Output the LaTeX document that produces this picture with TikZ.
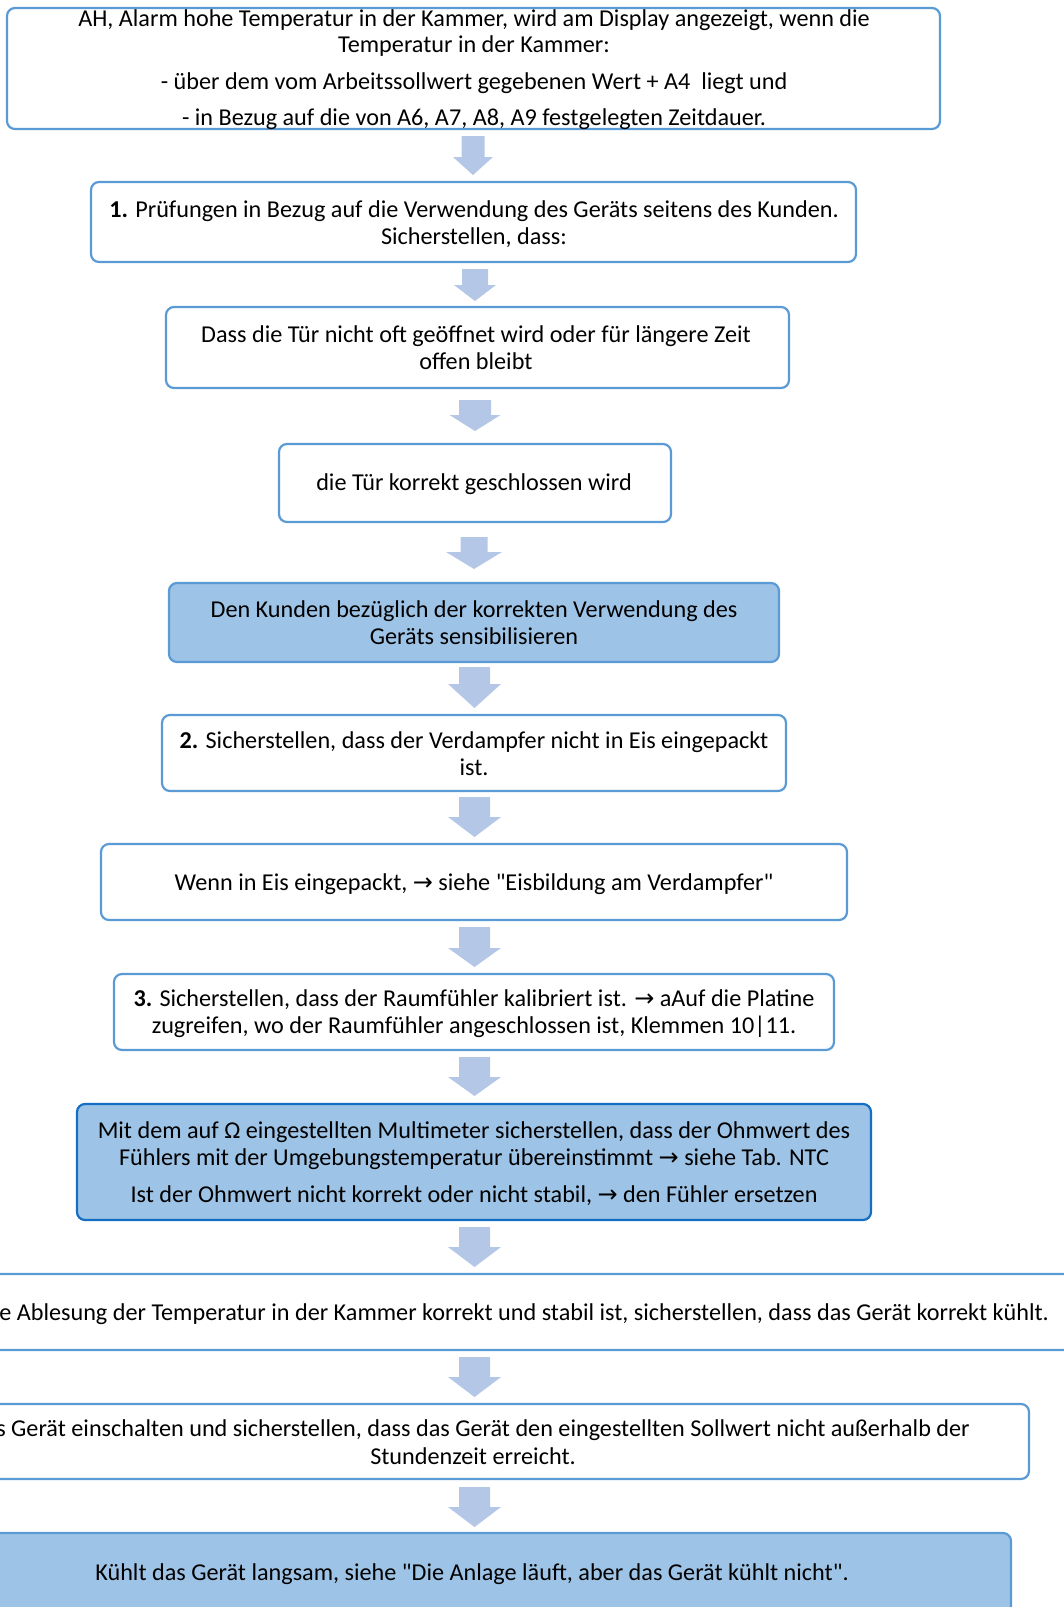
\documentclass[tikz,border=0pt]{standalone}
\usepackage{fontspec}
\setmainfont{Carlito}[Ligatures=TeXOff]
\newfontfamily\arrowfont{DejaVu Sans}
\usetikzlibrary{calc}
\definecolor{boxline}{HTML}{5B9BD5}
\definecolor{boxfill}{HTML}{9DC3E6}
\definecolor{arrfill}{HTML}{B4C7E7}
\definecolor{darkline}{RGB}{20,110,195}
\newcommand{\ar}{{\arrowfont\fontsize{24}{27}\selectfont →}}
% name, cx, ytop, yhead, ytip, shaft half width, head half width
\newcommand{\blockarrow}[7]{%
  \fill[arrfill] (#2-#6,#3) -- (#2+#6,#3) -- (#2+#6,#4) -- (#2+#7,#4) -- (#2,#5) -- (#2-#7,#4) -- (#2-#6,#4) -- cycle;
  \coordinate (#1) at (#2,#5);}
\tikzset{
  box/.style={draw=boxline, line width=2.2pt, rounded corners=8pt, fill=white, inner sep=0pt},
  fbox/.style={box, fill=boxfill},
  txt/.style={align=center, inner sep=0pt, font=\fontsize{24.2}{27}\selectfont},
}
\begin{document}
\begin{tikzpicture}[x=1pt,y=-1pt]
\useasboundingbox (0,0) rectangle (1064,1607);
\clip (0,0) rectangle (1064,1607);

% boxes
\node[box, minimum width=933pt, minimum height=121pt] (bA) at (473.5,68.5) {};
\node[box, minimum width=765pt, minimum height=80pt] (bB) at (473.5,222) {};
\node[box, minimum width=623pt, minimum height=81pt] (bC) at (477.5,347.5) {};
\node[box, minimum width=392pt, minimum height=78pt] (bD) at (475,483) {};
\node[fbox, minimum width=610pt, minimum height=79pt] (bE) at (474,622.5) {};
\node[box, minimum width=624pt, minimum height=76pt] (bF) at (474,753) {};
\node[box, minimum width=746pt, minimum height=76pt] (bG) at (474,882) {};
\node[box, minimum width=720pt, minimum height=76pt] (bH) at (474,1012) {};
\node[fbox, draw=darkline, minimum width=794pt, minimum height=116pt] (bI) at (474,1162) {};
\node[box, minimum width=1110pt, minimum height=76pt] (bJ) at (535,1312) {};
\node[box, minimum width=1049pt, minimum height=75pt] (bK) at (504.5,1441.5) {};
\node[fbox, minimum width=1031pt, minimum height=127pt] (bL) at (495.5,1596.5) {};

% texts
\node[txt, font=\fontsize{24.2}{26}\selectfont] (tA) at (474,70) {AH, Alarm hohe Temperatur in der Kammer, wird am Display angezeigt, wenn die\\Temperatur in der Kammer:\\[11pt]- über dem vom Arbeitssollwert gegebenen Wert + A4\ \ liegt und\\[10pt]- in Bezug auf die von A6, A7, A8, A9 festgelegten Zeitdauer.};
\node[txt] (tB) at (474,224) {\textbf{1.} Prüfungen in Bezug auf die Verwendung des Geräts seitens des Kunden.\\Sicherstellen, dass:};
\node[txt] (tC) at (476,347.5) {Dass die Tür nicht oft geöffnet wird oder für längere Zeit\\offen bleibt};
\node[txt] (tD) at (474,484) {die Tür korrekt geschlossen wird};
\node[txt] (tE) at (474,622.5) {Den Kunden bezüglich der korrekten Verwendung des\\Geräts sensibilisieren};
\node[txt] (tF) at (474,754) {\textbf{2.} Sicherstellen, dass der Verdampfer nicht in Eis eingepackt\\ist.};
\node[txt] (tG) at (474,884) {Wenn in Eis eingepackt, \ar{} siehe "Eisbildung am Verdampfer"};
\node[txt] (tH) at (474,1014) {\textbf{3.} Sicherstellen, dass der Raumfühler kalibriert ist. \ar{} aAuf die Platine\\zugreifen, wo der Raumfühler angeschlossen ist, Klemmen 10|11.};
\node[txt] (tI) at (474,1164) {Mit dem auf Ω eingestellten Multimeter sicherstellen, dass der Ohmwert des\\Fühlers mit der Umgebungstemperatur übereinstimmt \ar{} siehe Tab. NTC\\[10pt]Ist der Ohmwert nicht korrekt oder nicht stabil, \ar{} den Fühler ersetzen};
\node[txt, anchor=east] (tJ) at (1049,1314) {e Ablesung der Temperatur in der Kammer korrekt und stabil ist, sicherstellen, dass das Gerät korrekt kühlt.};
\node[txt, anchor=east] (tK1) at (970,1430) {s Gerät einschalten und sicherstellen, dass das Gerät den eingestellten Sollwert nicht außerhalb der};
\node[txt] (tK2) at (473,1456) {Stundenzeit erreicht.};
\node[txt] (tL) at (472,1574) {Kühlt das Gerät langsam, siehe "Die Anlage läuft, aber das Gerät kühlt nicht".};

% block arrows
\blockarrow{a1}{473}{136}{157}{175}{11.5}{20}
\blockarrow{a2}{475}{269}{285}{301}{13}{21}
\blockarrow{a3}{475}{400}{415}{431}{16}{25.5}
\blockarrow{a4}{474}{537}{552}{569}{13.5}{28}
\blockarrow{a5}{474.5}{667}{684}{708}{15.5}{26.5}
\blockarrow{a6}{474.5}{797}{817}{837}{15.5}{26.5}
\blockarrow{a7}{474.5}{927}{948}{967}{15.5}{26.5}
\blockarrow{a8}{474.5}{1057}{1077}{1096}{15.5}{26.5}
\blockarrow{a9}{474.5}{1227}{1247}{1267}{15.5}{26.5}
\blockarrow{a10}{474.5}{1357}{1377}{1397}{15.5}{26.5}
\blockarrow{a11}{474.5}{1487}{1507}{1527}{15.5}{26.5}
\end{tikzpicture}
\end{document}
